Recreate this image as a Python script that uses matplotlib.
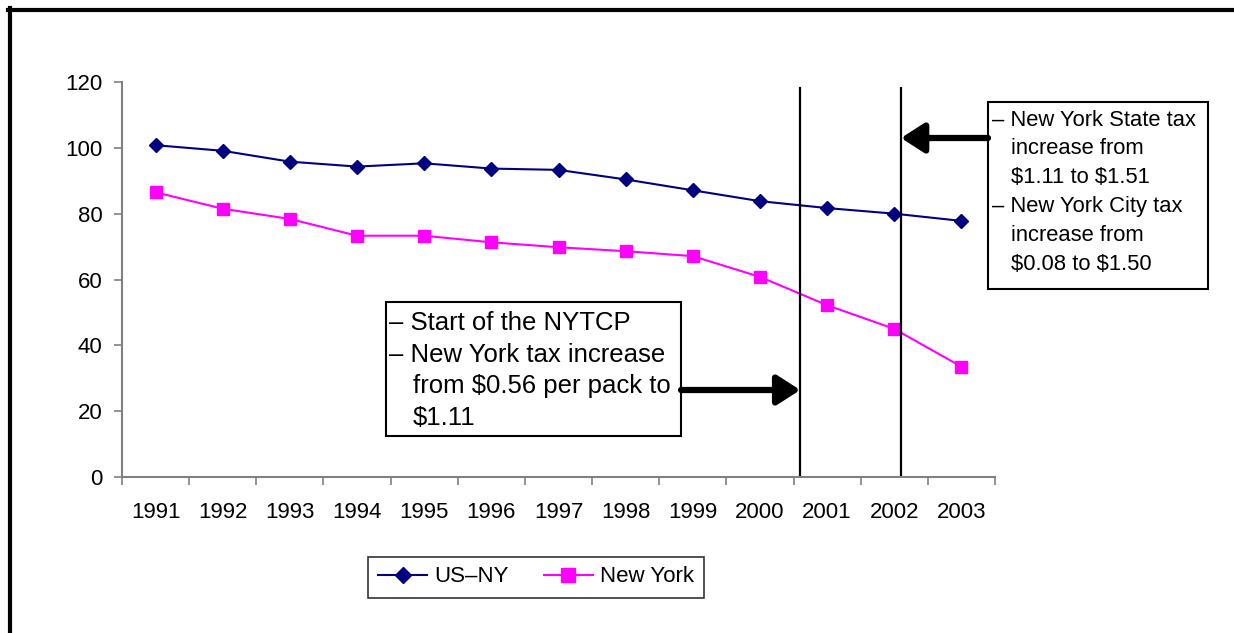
import numpy as np
import matplotlib
matplotlib.use('Agg')
import matplotlib.pyplot as plt
from matplotlib.patches import Rectangle
from matplotlib.lines import Line2D

plt.rcParams['font.family'] = ['Liberation Sans', 'DejaVu Sans']

# data
years = ['1991', '1992', '1993', '1994', '1995', '1996', '1997',
         '1998', '1999', '2000', '2001', '2002', '2003']
us_ny = [100.8, 99.1, 95.8, 94.3, 95.3, 93.7, 93.3, 90.4, 87.1, 83.8, 81.7, 80.0, 77.8]
new_york = [86.5, 81.5, 78.4, 73.3, 73.3, 71.3, 69.8, 68.6, 67.1, 60.8, 52.2, 45.0, 33.5]
events = [9.6, 11.1]  # positions of the two policy markers on the category axis

# (text, indented?)
note1 = [('– Start of the NYTCP', False), ('– New York tax increase', False),
         (r'from \$0.56 per pack to', True), (r'\$1.11', True)]
note2 = [('– New York State tax', False), ('increase from', True),
         (r'\$1.11 to \$1.51', True), ('– New York City tax', False),
         ('increase from', True), (r'\$0.08 to \$1.50', True)]

W, H = 1234, 633
fig = plt.figure(figsize=(W / 100, H / 100), dpi=100)


def fx(px):
    return px / W


def fy(py):
    return 1 - py / H


ax = fig.add_axes([fx(122), fy(477), fx(995 - 122), (477 - 82) / H])
x = np.arange(len(years))
l1, = ax.plot(x, us_ny, color='#000080', marker='D', ms=7.5, lw=1.5, label='US–NY')
l2, = ax.plot(x, new_york, color='#FF00FF', marker='s', ms=9, lw=1.5, label='New York')

ax.set_xlim(-0.5, len(years) - 0.5)
ax.set_ylim(0, 120)
ax.set_yticks(np.arange(0, 121, 20))
ax.set_xticks(np.arange(-0.5, len(years)))
ax.set_xticklabels([])
ax.set_xticks(x, minor=True)
ax.set_xticklabels(years, minor=True)
ax.tick_params(axis='x', which='minor', length=0, pad=18, labelsize=16)
ax.tick_params(axis='both', which='major', length=6, width=1.2, color='#808080',
               labelsize=16, pad=8)
for s in ['top', 'right']:
    ax.spines[s].set_visible(False)
for s in ['left', 'bottom']:
    ax.spines[s].set_color('#808080')
    ax.spines[s].set_linewidth(1.5)

# policy markers
top_val = (477 - 87) / (477 - 82) * 120
ax.vlines(events, 0, top_val, color='black', lw=1.6, clip_on=False)

arrow_y = [(477 - 390) / (477 - 82) * 120, (477 - 138) / (477 - 82) * 120]
ax.annotate('', xy=(events[0], arrow_y[0]), xytext=(681, H - 390),
            textcoords='figure pixels',
            arrowprops=dict(arrowstyle='-|>,head_length=0.7,head_width=0.45',
                            lw=4.5, color='black', shrinkA=0, shrinkB=0,
                            mutation_scale=20))
ax.annotate('', xy=(events[1], arrow_y[1]), xytext=(988, H - 138),
            textcoords='figure pixels',
            arrowprops=dict(arrowstyle='-|>,head_length=0.7,head_width=0.45',
                            lw=4.5, color='black', shrinkA=0, shrinkB=0,
                            mutation_scale=20))

# annotation boxes
fig.add_artist(Rectangle((fx(386), fy(436)), fx(681 - 386), (436 - 302) / H,
                         transform=fig.transFigure, fill=False, ec='black', lw=1.5))
for i, (t, ind) in enumerate(note1):
    fig.text(fx(413 if ind else 389), fy(323 + i * 31.7), t, fontsize=18.5,
             va='center', ha='left')

fig.add_artist(Rectangle((fx(988), fy(289)), fx(1208 - 988), (289 - 102) / H,
                         transform=fig.transFigure, fill=False, ec='black', lw=1.5))
for i, (t, ind) in enumerate(note2):
    fig.text(fx(1011 if ind else 992), fy(120 + i * 28.8), t, fontsize=15.8,
             va='center', ha='left')

# legend
leg = fig.legend(handles=[l1, l2], loc='center', ncol=2,
                 bbox_to_anchor=(fx(536), fy(577)), fontsize=16,
                 frameon=True, fancybox=False, edgecolor='black',
                 handlelength=2.2, columnspacing=1.6, handletextpad=0.3,
                 borderpad=0.45, borderaxespad=0, markerscale=1.15)
leg.get_frame().set_linewidth(1.2)

# outer frame (left and top)
fig.add_artist(Line2D([fx(10.3), fx(10.3)], [0, fy(8.3)], transform=fig.transFigure,
                      color='black', lw=3))
fig.add_artist(Line2D([fx(8.3), 1], [fy(10.3), fy(10.3)], transform=fig.transFigure,
                      color='black', lw=3))

fig.savefig('out.png', dpi=100)
